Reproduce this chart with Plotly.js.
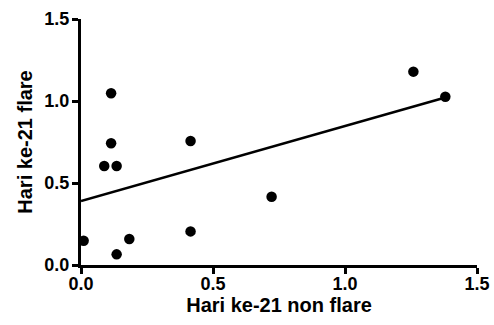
<!DOCTYPE html>
<html>
<head>
<meta charset="utf-8">
<script src="https://cdn.plot.ly/plotly-3.0.1.min.js"></script>
<style>html,body{margin:0;padding:0;background:#fff;}#chart{width:494px;height:325px;}</style>
</head>
<body>
<div id="chart"></div>
<script>
// Data
var nonFlare = [0.01, 0.114, 0.114, 0.088, 0.135, 0.183, 0.135, 0.415, 0.415, 0.722, 1.259, 1.380];
var flare    = [0.148, 1.047, 0.742, 0.604, 0.604, 0.159, 0.065, 0.756, 0.205, 0.416, 1.179, 1.026];
var tickVals = [0, 0.5, 1.0, 1.5];
var tickText = ['0.0', '0.5', '1.0', '1.5'];
var xTitle = 'Hari ke-21 non flare';
var yTitle = 'Hari ke-21 flare';

// Least-squares fit line
var n = nonFlare.length, mx = 0, my = 0;
for (var i = 0; i < n; i++) { mx += nonFlare[i]; my += flare[i]; }
mx /= n; my /= n;
var sxy = 0, sxx = 0;
for (var i = 0; i < n; i++) { sxy += (nonFlare[i]-mx)*(flare[i]-my); sxx += (nonFlare[i]-mx)*(nonFlare[i]-mx); }
var slope = sxy / sxx, intercept = my - slope*mx;
var xmax = Math.max.apply(null, nonFlare);
var fitX = [0, xmax];
var fitY = fitX.map(function(x){ return intercept + slope*x; });

var font = {family: 'Arial', color: '#000', weight: 700};

var traces = [
  {x: fitX, y: fitY, mode: 'lines', line: {color: '#000', width: 2.5}, hoverinfo: 'skip', cliponaxis: false},
  {x: nonFlare, y: flare, mode: 'markers', marker: {color: '#000', size: 10.5}, cliponaxis: false}
];

var axisCommon = {
  range: [0, 1.5], tickvals: tickVals, ticktext: tickText,
  showgrid: false, zeroline: false, showline: true, linewidth: 3, linecolor: '#000',
  ticks: 'outside', ticklen: 6, tickwidth: 3, tickcolor: '#000',
  tickfont: Object.assign({}, font, {size: 18}), automargin: false, fixedrange: true
};

var layout = {
  width: 494, height: 325,
  margin: {l: 81, r: 17, t: 19, b: 60},
  paper_bgcolor: '#fff', plot_bgcolor: '#fff',
  showlegend: false,
  font: font,
  xaxis: Object.assign({}, axisCommon, {
    ticklabelstandoff: -6,
    title: {text: xTitle, font: Object.assign({}, font, {size: 20}), standoff: 6}
  }),
  yaxis: Object.assign({}, axisCommon, {
    ticklabelstandoff: -1,
    title: {text: yTitle, font: Object.assign({}, font, {size: 20}), standoff: 7}
  })
};

Plotly.newPlot('chart', traces, layout, {displayModeBar: false, staticPlot: true});
</script>
</body>
</html>
